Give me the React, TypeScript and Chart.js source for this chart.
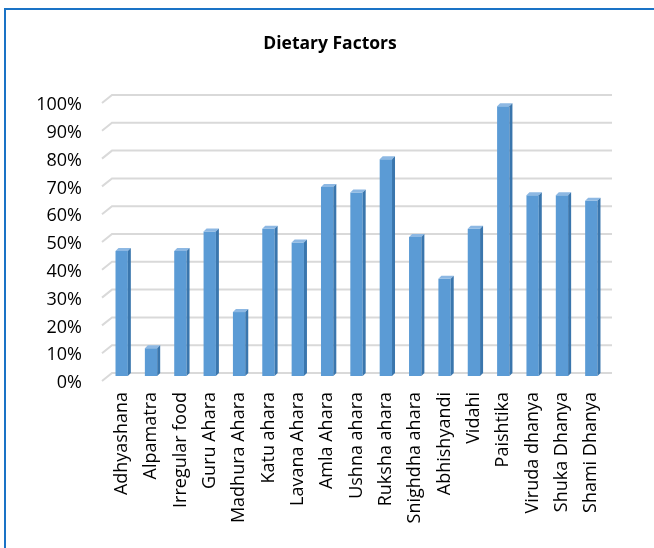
import React, { useEffect, useRef } from "react";
import { Chart, registerables } from "chart.js";

Chart.register(...registerables);

const categories = [
  "Adhyashana",
  "Alpamatra",
  "Irregular food",
  "Guru Ahara",
  "Madhura Ahara",
  "Katu ahara",
  "Lavana Ahara",
  "Amla Ahara",
  "Ushna ahara",
  "Ruksha ahara",
  "Snighdha ahara",
  "Abhishyandi",
  "Vidahi",
  "Paishtika",
  "Viruda dhanya",
  "Shuka Dhanya",
  "Shami Dhanya",
];

const values = [45, 10, 45, 52, 23, 53, 48, 68, 66, 78, 50, 35, 53, 97, 65, 65, 63];

const yTicks = [0, 10, 20, 30, 40, 50, 60, 70, 80, 90, 100];

const titleText = "Dietary Factors";

const depth = 3;

const threeD = {
  id: "threeD",
  beforeDatasetsDraw(chart: any) {
    const { ctx, chartArea, scales } = chart;
    const y = scales.y;
    ctx.save();
    ctx.strokeStyle = "#d9d9d9";
    ctx.lineWidth = 2;
    for (const v of yTicks) {
      const p = y.getPixelForValue(v);
      ctx.beginPath();
      ctx.moveTo(chartArea.left - 5, p + 5);
      ctx.lineTo(chartArea.left + 5, p - 3);
      ctx.lineTo(chartArea.right + 6, p - 3);
      ctx.stroke();
    }
    ctx.restore();
  },
  afterDatasetsDraw(chart: any) {
    const { ctx } = chart;
    const meta = chart.getDatasetMeta(0);
    ctx.save();
    for (const el of meta.data) {
      const { x, y, base, width } = el.getProps(["x", "y", "base", "width"], true);
      const left = x - width / 2;
      const right = x + width / 2;
      ctx.fillStyle = "#8db8e3";
      ctx.beginPath();
      ctx.moveTo(left, y);
      ctx.lineTo(left + depth, y - depth);
      ctx.lineTo(right + depth, y - depth);
      ctx.lineTo(right, y);
      ctx.closePath();
      ctx.fill();
      ctx.fillStyle = "#3a76ad";
      ctx.beginPath();
      ctx.moveTo(right, y);
      ctx.lineTo(right + depth, y - depth);
      ctx.lineTo(right + depth, base - depth);
      ctx.lineTo(right, base);
      ctx.closePath();
      ctx.fill();
    }
    ctx.restore();
  },
};

export default function App() {
  const ref = useRef<HTMLCanvasElement | null>(null);

  useEffect(() => {
    if (!ref.current) return;
    const chart = new Chart(ref.current, {
      type: "bar",
      data: {
        labels: categories,
        datasets: [
          {
            data: values,
            backgroundColor: "#5b9bd5",
            borderWidth: 0,
            barPercentage: 0.42,
            categoryPercentage: 1,
          },
        ],
      },
      options: {
        responsive: false,
        animation: false,
        devicePixelRatio: 1,
        layout: { padding: { left: 6, right: 0, top: 0, bottom: 0 } },
        plugins: {
          legend: { display: false },
          tooltip: { enabled: false },
          title: {
            display: true,
            text: titleText,
            color: "#000000",
            font: { family: "'Open Sans'", size: 17.5, weight: "bold", lineHeight: 1.2 },
            padding: { top: 34, bottom: 43 },
          },
        },
        scales: {
          x: {
            grid: { display: false, drawTicks: false },
            border: { display: false },
            ticks: {
              color: "#000000",
              font: { family: "'Open Sans'", size: 18 },
              minRotation: 90,
              maxRotation: 90,
              padding: 16,
              autoSkip: false,
            },
            afterFit: (s: any) => {
              s.height = 172;
            },
          },
          y: {
            min: 0,
            max: 100,
            grid: { display: false, drawTicks: false },
            border: { display: false },
            ticks: {
              stepSize: 10,
              color: "#000000",
              font: { family: "'Open Sans'", size: 18 },
              padding: 25,
              labelOffset: 7,
              callback: (v: any) => v + "%",
            },
            afterFit: (s: any) => {
              s.width = 101;
            },
          },
          yRight: {
            position: "right",
            display: true,
            grid: { display: false, drawTicks: false },
            border: { display: false },
            ticks: { display: false },
            afterFit: (s: any) => {
              s.width = 48;
            },
          },
        },
      },
      plugins: [threeD],
    });
    return () => chart.destroy();
  }, []);

  return (
    <div
      style={{
        position: "fixed",
        left: 0,
        top: 0,
        width: 654,
        height: 548,
        background: "#ffffff",
        overflow: "hidden",
      }}
    >
      <canvas ref={ref} width={654} height={548} style={{ position: "absolute", left: 0, top: 0 }} />
      <div
        style={{
          position: "absolute",
          left: 4,
          top: 8,
          width: 800,
          height: 800,
          borderLeft: "2px solid #1a73c6",
          borderTop: "2px solid #1a73c6",
          pointerEvents: "none",
        }}
      />
    </div>
  );
}
